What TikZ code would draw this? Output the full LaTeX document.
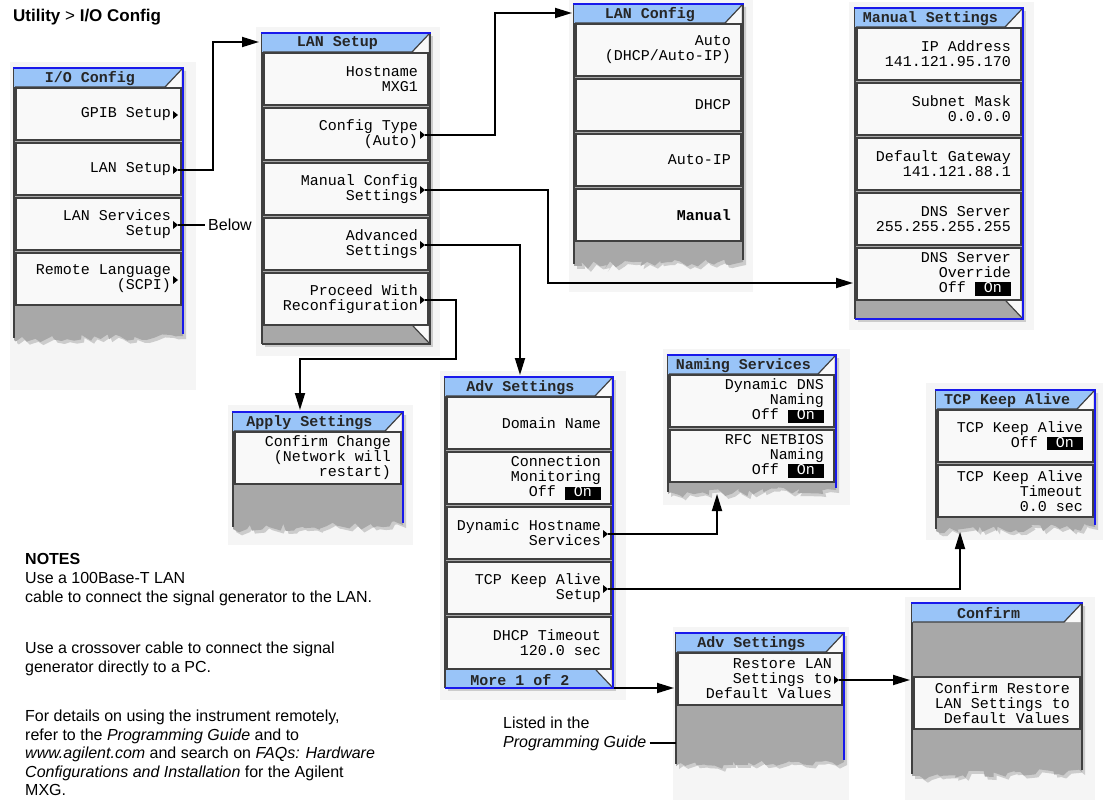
\documentclass[tikz,border=0pt]{standalone}
\usepackage{fontspec}
\setmainfont{Liberation Sans}
\newfontfamily\keyfont{Liberation Mono}
\usetikzlibrary{shadows,decorations.pathmorphing,arrows.meta}

\definecolor{titleblue}{RGB}{153,196,248}
\definecolor{frameblue}{RGB}{25,25,235}
\definecolor{keywhite}{RGB}{249,249,249}
\definecolor{panelgray}{RGB}{168,168,168}
\definecolor{edgegray}{RGB}{64,64,64}
\definecolor{backgray}{RGB}{245,245,245}

\tikzset{
  keybox/.style={fill=keywhite, draw=edgegray, line width=1.4pt},
  keytext/.style={anchor=east, align=right, inner sep=0pt, font=\keyfont\fontsize{15}{15}\selectfont},
  titletext/.style={inner sep=0pt, font=\keyfont\bfseries\fontsize{15}{15}\selectfont, text=black!85},
  plain/.style={inner sep=0pt, anchor=base west, font=\fontsize{16}{18}\selectfont},
  conn/.style={line width=1.8pt},
  arr/.style={conn, -{Triangle[length=17pt,width=10pt]}},
  torn/.style={decoration={random steps, segment length=5pt, amplitude=4pt}},
  shade/.style={drop shadow={shadow xshift=3pt, shadow yshift=-3pt, opacity=0.35}},
}

% schwarzes Feld fuer "On"
\newcommand{\onsel}{{\fboxsep=0pt\colorbox{black}{\textcolor{white}{\rule[-3pt]{0pt}{12pt}\ On\ }}}}

% heller Hintergrund hinter einem Menue
\newcommand{\panelback}[4]{\fill[backgray] ({#1},{#2}) rectangle ({#3},{#4});}

% Menue mit abgerissener Unterkante: L, T, R, Unterkante, Farbe rechter Rand
\newcommand{\tornbody}[5]{%
  \fill[panelgray, shade] ({#1},{#2}) -- ({#3},{#2}) -- ({#3},{#4}) decorate[torn]{-- ({#1},{#4+4})} -- cycle;
  \draw[edgegray, line width=2pt] ({#1},{#2}) -- ({#1},{#4+2});
  \draw[#5, line width=2.5pt] ({#3},{#2}) -- ({#3},{#4-2});
}

% Menue mit Leiste unten: L, T, R, Leiste oben, Farbe Leiste, Farbe Rand
\newcommand{\barbody}[6]{%
  \fill[panelgray, shade] ({#1},{#2}) rectangle ({#3},{#4+18});
  \fill[#5] ({#1},{#4}) -- ({#3-17},{#4}) -- ({#3},{#4+18}) -- ({#1},{#4+18}) -- cycle;
  \fill[keywhite] ({#3-17},{#4}) -- ({#3-1.3},{#4}) -- ({#3-1.3},{#4+17}) -- cycle;
  \draw[edgegray, line width=1.2pt] ({#3-17},{#4}) -- ({#3},{#4+18});
  \draw[edgegray, line width=2pt] ({#1},{#2}) -- ({#1},{#4+18});
  \draw[#6, line width=2.5pt] ({#3},{#2}) -- ({#3},{#4+18}) -- ({#1},{#4+18});
}

% Titelleiste: Name, L, T, R, Titel
\newcommand{\menutitle}[5]{%
  \fill[titleblue] ({#2},{#3}) -- ({#4},{#3}) -- ({#4-17},{#3+19}) -- ({#2},{#3+19}) -- cycle;
  \fill[keywhite] ({#4-1.3},{#3+1}) -- ({#4-1.3},{#3+19}) -- ({#4-17},{#3+19}) -- cycle;
  \draw[edgegray, line width=1.2pt] ({#4-1},{#3+1}) -- ({#4-18},{#3+19}) -- ({#2+1},{#3+19});
  \draw[frameblue, line width=2pt] ({#2-1},{#3}) -- ({#4+1},{#3});
  \node[titletext] (#1) at ({(#2+#4-17)/2},{#3+10.5}) {#5};
}

% Taste: Name, L, Oberkante, R, Text
\newcommand{\softkey}[5]{%
  \draw[keybox] ({#2+2},{#3}) rectangle ({#4-2},{#3+52});
  \node[keytext] (#1) at ({#4-12},{#3+26}) {#5};
}

% Untermenue-Dreieck: Name, Spitze x, Oberkante Taste
\newcommand{\submenu}[3]{%
  \fill[black] ({#2-5},{#3+23}) -- ({#2},{#3+27}) -- ({#2-5},{#3+31}) -- cycle;
  \coordinate (#1) at ({#2},{#3+27});
}

\begin{document}
\begin{tikzpicture}[x=1pt,y=-1pt]
  \useasboundingbox (0,0) rectangle (1103,802);
  \pgfmathsetseed{11}

  % Ueberschrift
  \node[plain, font=\bfseries\fontsize{17}{20}\selectfont] (utility) at (13,22) {Utility {\mdseries >} I/O Config};

  % I/O Config
  \panelback{10}{62}{196}{390}
  \tornbody{14}{68}{183}{336}{frameblue}
  \menutitle{io}{14}{68}{183}{I/O Config}
  \foreach \y/\txt [count=\i] in {88/GPIB Setup, 143/LAN Setup, 198/{LAN Services\\Setup}, 253/{Remote Language\\(SCPI)}} {
    \softkey{io-\i}{14}{\y}{183}{\txt}
    \submenu{io-m\i}{178}{\y}
  }

  % LAN Setup
  \panelback{256}{27}{440}{356}
  \barbody{262}{33}{430}{326}{panelgray}{edgegray}
  \menutitle{lan}{262}{33}{430}{LAN Setup}
  \foreach \y/\m/\txt [count=\i] in {53/0/{Hostname\\MXG1}, 108/1/{Config Type\\(Auto)}, 163/1/{Manual Config\\Settings}, 218/1/{Advanced\\Settings}, 273/1/{Proceed With\\Reconfiguration}} {
    \softkey{lan-\i}{262}{\y}{430}{\txt}
    \ifnum\m=1 \submenu{lan-m\i}{425}{\y}\fi
  }

  % LAN Config
  \panelback{569}{0}{753}{292}
  \tornbody{574}{4}{743}{262}{edgegray}
  \menutitle{cfg}{574}{4}{743}{LAN Config}
  \foreach \y/\txt [count=\i] in {24/{Auto\\(DHCP/Auto-IP)}, 79/DHCP, 134/Auto-IP, 189/{\bfseries Manual}} {
    \softkey{cfg-\i}{574}{\y}{743}{\txt}
  }

  % Manual Settings
  \panelback{849}{2}{1034}{330}
  \barbody{855}{8}{1023}{301}{panelgray}{frameblue}
  \menutitle{man}{855}{8}{1023}{Manual Settings}
  \foreach \y/\txt [count=\i] in {28/{IP Address\\141.121.95.170}, 83/{Subnet Mask\\0.0.0.0}, 138/{Default Gateway\\141.121.88.1}, 193/{DNS Server\\255.255.255.255}, 248/{DNS Server\\Override\\Off \onsel}} {
    \softkey{man-\i}{855}{\y}{1023}{\txt}
  }

  % Apply Settings
  \panelback{228}{405}{413}{545}
  \tornbody{233}{412}{403}{525}{frameblue}
  \menutitle{apply}{233}{412}{403}{Apply Settings}
  \softkey{apply-1}{233}{432}{403}{Confirm Change\\(Network will\\restart)}

  % Adv Settings (Seite 1)
  \panelback{440}{371}{626}{700}
  \barbody{445}{377}{613}{670}{titleblue}{frameblue}
  \menutitle{adv}{445}{377}{613}{Adv Settings}
  \node[titletext] (adv-more) at (520,680) {More 1 of 2};
  \foreach \y/\m/\txt [count=\i] in {397/0/Domain Name, 452/0/{Connection\\Monitoring\\Off \onsel}, 507/1/{Dynamic Hostname\\Services}, 562/1/{TCP Keep Alive\\Setup}, 617/0/{DHCP Timeout\\120.0 sec}} {
    \softkey{adv-\i}{445}{\y}{613}{\txt}
    \ifnum\m=1 \submenu{adv-m\i}{608}{\y}\fi
  }

  % Naming Services
  \panelback{663}{349}{850}{505}
  \tornbody{668}{355}{836}{490}{frameblue}
  \menutitle{nam}{668}{355}{836}{Naming Services}
  \foreach \y/\txt [count=\i] in {375/{Dynamic DNS\\Naming\\Off \onsel}, 430/{RFC NETBIOS\\Naming\\Off \onsel}} {
    \softkey{nam-\i}{668}{\y}{836}{\txt}
  }

  % TCP Keep Alive
  \panelback{926}{383}{1103}{540}
  \tornbody{936}{390}{1095}{527}{frameblue}
  \menutitle{tcp}{936}{390}{1095}{TCP Keep Alive}
  \foreach \y/\txt [count=\i] in {410/{TCP Keep Alive\\Off \onsel}, 465/{TCP Keep Alive\\Timeout\\0.0 sec}} {
    \softkey{tcp-\i}{936}{\y}{1095}{\txt}
  }

  % Adv Settings (Programming Guide)
  \panelback{673}{627}{849}{800}
  \tornbody{676}{633}{844}{762}{frameblue}
  \menutitle{adv2}{676}{633}{844}{Adv Settings}
  \softkey{adv2-1}{676}{653}{844}{Restore LAN\\Settings to\\Default Values}
  \submenu{adv2-m1}{839}{653}

  % Confirm
  \panelback{905}{597}{1095}{800}
  \tornbody{912}{603}{1082}{772}{edgegray}
  \menutitle{conf}{912}{603}{1082}{Confirm}
  \softkey{conf-1}{912}{677}{1082}{Confirm Restore\\LAN Settings to\\Default Values}

  % Beschriftungen
  \node[plain, anchor=west] (below) at (208,225) {Below};
  \node[plain] (listed) at (503,728) {Listed in the};
  \node[plain] (guide) at (503,747) {\itshape Programming Guide};
  \foreach \y/\txt [count=\i] in {564/{\bfseries NOTES}, 583/{Use a 100Base-T LAN}, 602/{cable to connect the signal generator to the LAN.}, 653/{Use a crossover cable to connect the signal}, 672/{generator directly to a PC.}, 721/{For details on using the instrument remotely,}, 740/{refer to the \textit{Programming Guide} and to}, 758/{\textit{www.agilent.com} and search on \textit{FAQs: Hardware}}, 777/{\textit{Configurations and Installation} for the Agilent}, 795/{MXG.}} {
    \node[plain] (note-\i) at (25,\y) {\txt};
  }

  % Endpunkte der Pfeile
  \coordinate (lan-in) at (259,42);
  \coordinate (cfg-in) at (572,13);
  \coordinate (man-in) at (853,283);
  \coordinate (adv-in) at (520,375);
  \coordinate (apply-in) at (300,410);
  \coordinate (nam-in) at (717,494);
  \coordinate (tcp-in) at (960,532);
  \coordinate (adv-out) at (614,688);
  \coordinate (adv2-in) at (674,688);
  \coordinate (adv2-side) at (676,742);
  \coordinate (conf-in) at (910,680);

  % Verbindungen
  \draw[arr] (io-m2) -- ++(35,0) |- (lan-in);
  \draw[conn] (io-m3) -- ([xshift=-3pt]below.west);
  \draw[arr] (lan-m2) -- ++(70,0) |- (cfg-in);
  \draw[arr] (lan-m3) -- ++(123,0) |- (man-in);
  \draw[arr] (lan-m4) -| (adv-in);
  \draw[arr] (lan-m5) -- ++(31,0) -- ++(0,59) -| (apply-in);
  \draw[arr] (adv-m3) -| (nam-in);
  \draw[arr] (adv-m4) -| (tcp-in);
  \draw[arr] (adv-out) -- (adv2-in);
  \draw[conn] ([xshift=3pt]guide.east) -- (guide.east -| adv2-side);
  \draw[arr] (adv2-m1) -- (conf-in);
\end{tikzpicture}
\end{document}
